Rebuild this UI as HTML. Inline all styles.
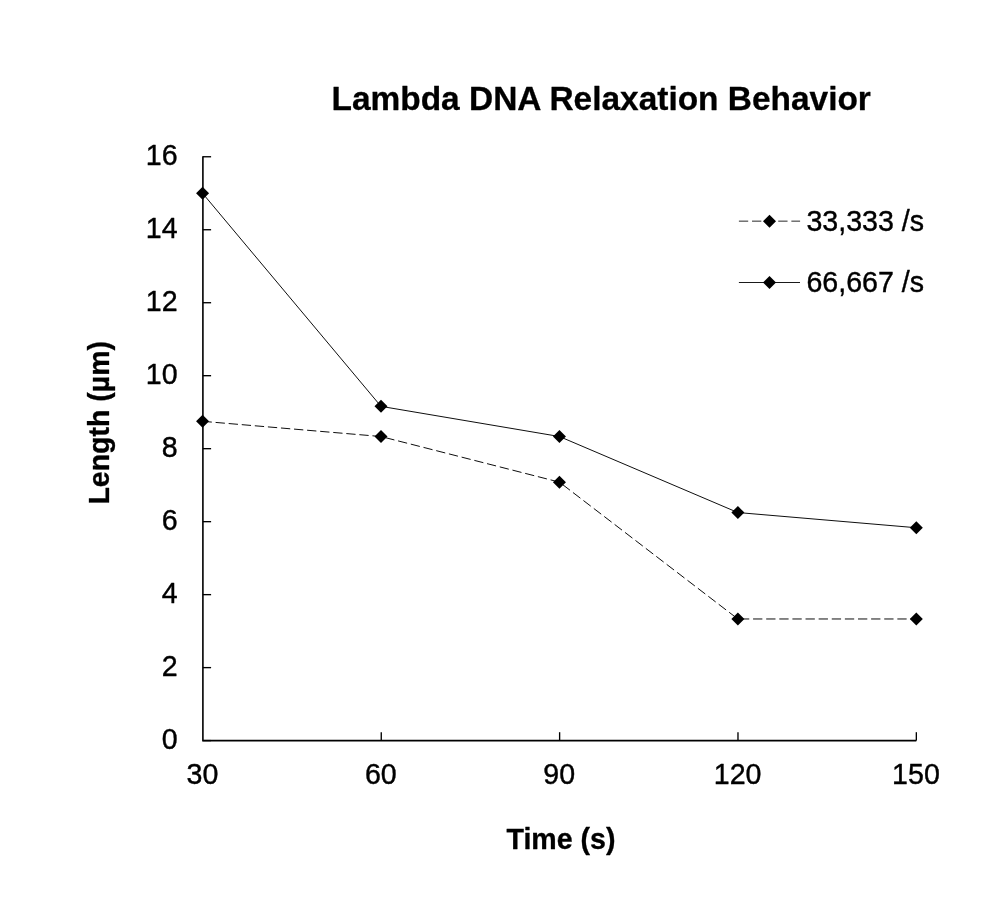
<!DOCTYPE html>
<html><head><meta charset="utf-8"><title>Lambda DNA Relaxation Behavior</title>
<style>
html,body{margin:0;padding:0;background:#fff;}
svg{display:block;}
text{font-family:"Liberation Sans",sans-serif;fill:#000;stroke:#000;stroke-width:0.4px;stroke-linejoin:round;}
text.b{font-weight:bold;stroke-width:0.3px;}
</style></head><body>
<svg width="1000" height="921" viewBox="0 0 1000 921">
<rect width="1000" height="921" fill="#fff"/>
<!-- chart title -->
<text class="b" transform="translate(601.20 109.50) scale(1 1.02)" font-size="33.45" text-anchor="middle">Lambda DNA Relaxation Behavior</text>
<!-- axes and tick marks -->
<g stroke="#000" stroke-width="1.6" fill="none">
<path d="M202.9 156.16V740.6H916.34"/>
<path d="M202.9 740.60h8.2" stroke-width="1.35"/>
<path d="M202.9 667.62h8.2" stroke-width="1.35"/>
<path d="M202.9 594.64h8.2" stroke-width="1.35"/>
<path d="M202.9 521.66h8.2" stroke-width="1.35"/>
<path d="M202.9 448.68h8.2" stroke-width="1.35"/>
<path d="M202.9 375.70h8.2" stroke-width="1.35"/>
<path d="M202.9 302.72h8.2" stroke-width="1.35"/>
<path d="M202.9 229.74h8.2" stroke-width="1.35"/>
<path d="M202.9 156.76h8.2" stroke-width="1.35"/>
<path d="M381.26 740.6v-8.4" stroke-width="1.35"/>
<path d="M559.62 740.6v-8.4" stroke-width="1.35"/>
<path d="M737.98 740.6v-8.4" stroke-width="1.35"/>
<path d="M916.34 740.6v-8.4" stroke-width="1.35"/>
</g>
<!-- tick labels -->
<text transform="translate(177.60 749.30) scale(1 1.035)" font-size="28.6" text-anchor="end">0</text>
<text transform="translate(177.60 676.32) scale(1 1.035)" font-size="28.6" text-anchor="end">2</text>
<text transform="translate(177.60 603.34) scale(1 1.035)" font-size="28.6" text-anchor="end">4</text>
<text transform="translate(177.60 530.36) scale(1 1.035)" font-size="28.6" text-anchor="end">6</text>
<text transform="translate(177.60 457.38) scale(1 1.035)" font-size="28.6" text-anchor="end">8</text>
<text transform="translate(177.60 384.40) scale(1 1.035)" font-size="28.6" text-anchor="end">10</text>
<text transform="translate(177.60 311.42) scale(1 1.035)" font-size="28.6" text-anchor="end">12</text>
<text transform="translate(177.60 238.44) scale(1 1.035)" font-size="28.6" text-anchor="end">14</text>
<text transform="translate(177.60 165.46) scale(1 1.035)" font-size="28.6" text-anchor="end">16</text>
<text transform="translate(202.50 784.40) scale(1 1.035)" font-size="28.6" text-anchor="middle">30</text>
<text transform="translate(380.86 784.40) scale(1 1.035)" font-size="28.6" text-anchor="middle">60</text>
<text transform="translate(559.22 784.40) scale(1 1.035)" font-size="28.6" text-anchor="middle">90</text>
<text transform="translate(737.58 784.40) scale(1 1.035)" font-size="28.6" text-anchor="middle">120</text>
<text transform="translate(915.94 784.40) scale(1 1.035)" font-size="28.6" text-anchor="middle">150</text>
<!-- axis titles -->
<text class="b" transform="translate(561.00 849.30) scale(1 1.02)" font-size="28.6" text-anchor="middle">Time (s)</text>
<text class="b" transform="translate(109.10 422.80) rotate(-90) scale(1 1.02)" font-size="28.5" text-anchor="middle">Length (µm)</text>
<!-- data series -->
<polyline points="202.55,421.31 380.99,436.52 559.43,482.13 737.87,618.97 916.31,618.97" fill="none" stroke="#000" stroke-width="0.95" stroke-dasharray="9.3 3.816"/>
<polyline points="202.55,193.25 380.99,406.35 559.43,436.52 737.87,512.54 916.31,527.74" fill="none" stroke="#000" stroke-width="0.95"/>
<g fill="#000">
<path d="M196.05 421.31L202.55 414.81L209.05 421.31L202.55 427.81Z"/>
<path d="M374.49 436.52L380.99 430.02L387.49 436.52L380.99 443.02Z"/>
<path d="M552.93 482.13L559.43 475.63L565.93 482.13L559.43 488.63Z"/>
<path d="M731.37 618.97L737.87 612.47L744.37 618.97L737.87 625.47Z"/>
<path d="M909.81 618.97L916.31 612.47L922.81 618.97L916.31 625.47Z"/>
<path d="M196.05 193.25L202.55 186.75L209.05 193.25L202.55 199.75Z"/>
<path d="M374.49 406.35L380.99 399.85L387.49 406.35L380.99 412.85Z"/>
<path d="M552.93 436.52L559.43 430.02L565.93 436.52L559.43 443.02Z"/>
<path d="M731.37 512.54L737.87 506.04L744.37 512.54L737.87 519.04Z"/>
<path d="M909.81 527.74L916.31 521.24L922.81 527.74L916.31 534.24Z"/>
</g>
<!-- legend -->
<path d="M738.9 221.15H800.1" stroke="#000" stroke-width="0.85" stroke-dasharray="9.3 3.816" fill="none"/>
<path d="M738.9 282.5H800" stroke="#000" stroke-width="0.9" fill="none"/>
<g fill="#000"><path d="M763.00 221.30L769.50 214.80L776.00 221.30L769.50 227.80Z"/><path d="M763.00 282.50L769.50 276.00L776.00 282.50L769.50 289.00Z"/></g>
<text transform="translate(806.40 230.60) scale(1 1.035)" font-size="28.6" text-anchor="start">33,333 /s</text>
<text transform="translate(806.40 291.90) scale(1 1.035)" font-size="28.6" text-anchor="start">66,667 /s</text>
</svg></body></html>
